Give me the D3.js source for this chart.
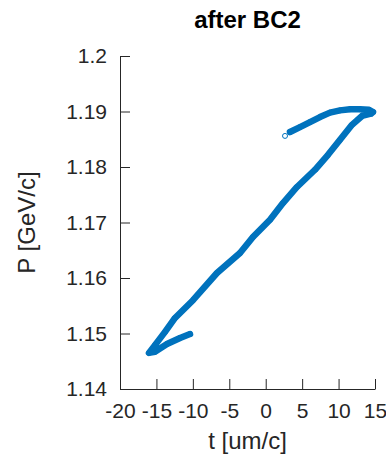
<!DOCTYPE html>
<html>
<head>
<meta charset="utf-8">
<script src="https://cdn.jsdelivr.net/npm/d3@7"></script>
<style>
  html, body { margin: 0; padding: 0; background: #fff; }
  svg { display: block; }
  text { font-family: "Liberation Sans", Arial, Helvetica, sans-serif; }
</style>
</head>
<body>
<svg id="chart" width="386" height="462"></svg>
<script>
// Longitudinal phase space after the second bunch compressor
const titleText = "after BC2";
const xLabel = "t [um/c]";
const yLabel = "P [GeV/c]";

// particle track, ordered from the bunch head around to the tail hook
const tVals = [3.33, 4.71, 6.08, 7.45, 8.82, 10.20, 11.57, 12.94, 14.18, 14.73, 14.45, 13.22,
               11.84, 10.20, 8.55, 6.76, 4.29, 2.37, 0.59, -1.75, -3.53, -6.69, -9.98, -12.45,
               -13.82, -15.20, -16.02, -15.20, -13.55, -11.76, -10.39];
const pVals = [1.1863, 1.1872, 1.1881, 1.1890, 1.1898, 1.1902, 1.1904, 1.1904, 1.1903, 1.1899, 1.1896, 1.1892,
               1.1876, 1.1849, 1.1822, 1.1795, 1.1764, 1.1735, 1.1705, 1.1674, 1.1645, 1.1609, 1.1560, 1.1528,
               1.1503, 1.1479, 1.1465, 1.1467, 1.1481, 1.1492, 1.1499];
// lone leading particle
const tLone = [2.65];
const pLone = [1.1856];

const xTicks = [-20, -15, -10, -5, 0, 5, 10, 15];
const yTicks = [1.14, 1.15, 1.16, 1.17, 1.18, 1.19, 1.2];

const svg = d3.select("#chart");
const mLeft = 120, mRight = 375, mTop = 56, mBottom = 389;
const blue = "#0072BD";
const axisColor = "#262626";

const x = d3.scaleLinear().domain([-20, 15]).range([mLeft, mRight]);
const y = d3.scaleLinear().domain([1.14, 1.2]).range([mBottom, mTop]);

const pts = tVals.map((t, i) => [t, pVals[i]]);

// dense particle band
svg.append("path")
  .datum(pts)
  .attr("fill", "none")
  .attr("stroke", blue)
  .attr("stroke-width", 6.5)
  .attr("stroke-linejoin", "round")
  .attr("stroke-linecap", "round")
  .attr("d", d3.line().x(d => x(d[0])).y(d => y(d[1])));

// circle markers
svg.append("g").selectAll("circle")
  .data(pts.concat(tLone.map((t, i) => [t, pLone[i]])))
  .join("circle")
  .attr("cx", d => x(d[0]))
  .attr("cy", d => y(d[1]))
  .attr("r", 2.5)
  .attr("fill", "none")
  .attr("stroke", blue)
  .attr("stroke-width", 1);

// axes (plain hyphen minus on negative labels)
const fmt = d => String(d);
const yAxis = d3.axisLeft(y).tickValues(yTicks).tickFormat(fmt).tickSizeInner(-10).tickSizeOuter(0).tickPadding(13);
const xAxis = d3.axisBottom(x).tickValues(xTicks).tickFormat(fmt).tickSizeInner(-10).tickSizeOuter(0).tickPadding(14);

const gy = svg.append("g").attr("transform", `translate(${mLeft},0)`).call(yAxis);
const gx = svg.append("g").attr("transform", `translate(0,${mBottom})`).call(xAxis);

[gx, gy].forEach(g => {
  g.selectAll("path, line").attr("stroke", axisColor);
  g.selectAll("text").attr("fill", axisColor)
    .style("font-family", '"Liberation Sans", Arial, sans-serif')
    .style("font-size", "21px");
});

// title and axis labels
svg.append("text")
  .attr("x", (mLeft + mRight) / 2).attr("y", 28)
  .attr("text-anchor", "middle")
  .style("font-size", "24px").style("font-weight", "bold")
  .attr("fill", "#000")
  .text(titleText);

svg.append("text")
  .attr("x", (mLeft + mRight) / 2).attr("y", 449)
  .attr("text-anchor", "middle")
  .style("font-size", "24px")
  .attr("fill", axisColor)
  .text(xLabel);

svg.append("text")
  .attr("transform", `translate(35,${(mTop + mBottom) / 2}) rotate(-90)`)
  .attr("text-anchor", "middle")
  .style("font-size", "24px")
  .attr("fill", axisColor)
  .text(yLabel);
</script>
</body>
</html>
